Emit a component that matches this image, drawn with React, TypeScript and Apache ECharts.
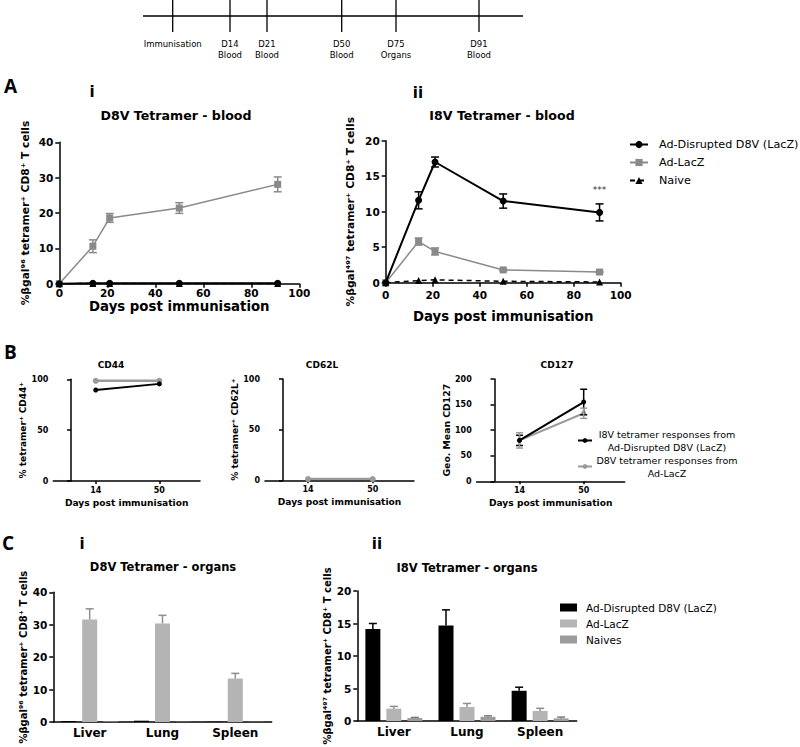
import React, { useEffect, useRef } from "react";
import * as echarts from "echarts";

// ---------------- data ----------------
const days = [0, 14, 21, 50, 91];

// A i  D8V tetramer - blood
const d8vBloodDisrupted = [0, 0.1, 0.1, 0.1, 0.1];
const d8vBloodLacZ = [0, 10.6, 18.6, 21.4, 28.1];
const d8vBloodLacZErr = [0, 1.8, 1.25, 1.5, 2.1];
const d8vBloodNaive = [0, 0.05, 0.05, 0.05, 0.05];

// A ii  I8V tetramer - blood
const i8vBloodDisrupted = [0, 11.6, 17.0, 11.5, 9.9];
const i8vBloodDisruptedErr = [0, 1.2, 0.7, 1.0, 1.2];
const i8vBloodLacZ = [0, 5.8, 4.4, 1.8, 1.5];
const i8vBloodLacZErr = [0, 0.5, 0.5, 0.15, 0.1];
const i8vBloodNaive = [0, 0.3, 0.4, 0.2, 0.1];
const sigDay = 91;
const sigLabelLevel = 13.1;

// B  phenotype
const phenoDays = [14, 50];
const cd44Disrupted = [89.5, 95.5];
const cd44LacZ = [98.5, 98.5];
const cd62lDisrupted = [0.8, 0.8];
const cd62lLacZ = [1.2, 1.2];
const cd127Disrupted = [80, 155];
const cd127DisruptedErr = [10, 25];
const cd127LacZ = [80, 133];
const cd127LacZErr = [15, 10];

// C  organs
const organs = ["Liver", "Lung", "Spleen"];
const d8vOrganDisrupted = [0.3, 0.4, 0.1];
const d8vOrganLacZ = [31.6, 30.4, 13.4];
const d8vOrganLacZErr = [3.3, 2.5, 1.6];
const d8vOrganNaive = [0.2, 0.1, 0.1];
const i8vOrganDisrupted = [14.15, 14.7, 4.65];
const i8vOrganDisruptedErr = [0.85, 2.4, 0.55];
const i8vOrganLacZ = [1.9, 2.15, 1.55];
const i8vOrganLacZErr = [0.35, 0.55, 0.4];
const i8vOrganNaive = [0.45, 0.65, 0.4];
const i8vOrganNaiveErr = [0.1, 0.15, 0.2];

// timeline
const timelineTop = ["Immunisation", "D14", "D21", "D50", "D75", "D91"];
const timelineBottom = ["", "Blood", "Blood", "Blood", "Organs", "Blood"];

// tick labels
const bloodDayTicks = [0, 20, 40, 60, 80, 100];

// series names
const N_DIS = "Ad-Disrupted D8V (LacZ)";
const N_LACZ = "Ad-LacZ";
const N_NAIVE = "Naive";
const N_NAIVES = "Naives";
const N_I8V = "I8V tetramer responses from Ad-Disrupted D8V (LacZ)";
const N_D8V = "D8V tetramer responses from Ad-LacZ";

// axis names
const NAME_96 = "%βgal⁹⁶ tetramer⁺ CD8⁺ T cells";
const NAME_497 = "%βgal⁴⁹⁷ tetramer⁺ CD8⁺ T cells";
const NAME_CD44 = "% tetramer⁺ CD44⁺";
const NAME_CD62 = "% tetramer⁺ CD62L⁺";
const NAME_CD127 = "Geo. Mean CD127";
const NAME_DAYS = "Days post immunisation";

// ---------------- styles ----------------
const F = '"DejaVu Sans", sans-serif';
const FT = '"Open Sans", "DejaVu Sans", sans-serif';
const BLACK = "#000000";
const GRAY_LINE = "#8a8a8a";
const GRAY_PHENO = "#9a9a9a";
const GRAY_BAR = "#b4b4b4";
const NAIVE_BAR = "#9c9c9c";

const nameStyle = (size: number) => ({ fontFamily: F, fontWeight: "bold", fontSize: size, color: BLACK });
const axLine = { show: true, lineStyle: { color: BLACK, width: 1.5 } };
const tick = (len: number) => ({ show: true, length: len, lineStyle: { color: BLACK, width: 1.5 } });
const lab = (size: number, margin: number) => ({ color: BLACK, fontFamily: F, fontWeight: "bold", fontSize: size, margin });

function errSeries(
  xi: number,
  xs: number[],
  ys: number[],
  errs: number[],
  color: string,
  cap: number,
  upOnly: boolean,
  offset: number
) {
  const data: number[][] = [];
  xs.forEach((x, i) => {
    if (errs[i] > 0) data.push([x, upOnly ? ys[i] : ys[i] - errs[i], ys[i] + errs[i]]);
  });
  return {
    type: "custom",
    xAxisIndex: xi,
    yAxisIndex: xi,
    silent: true,
    z: 4,
    encode: { x: 0, y: [1, 2] },
    data,
    renderItem: (params: any, api: any) => {
      const lo = api.coord([api.value(0), api.value(1)]);
      const hi = api.coord([api.value(0), api.value(2)]);
      const x = lo[0] + offset;
      const h = cap / 2;
      const st = { stroke: color, lineWidth: 1.5 };
      const children: any[] = [
        { type: "line", shape: { x1: x, y1: lo[1], x2: x, y2: hi[1] }, style: st },
        { type: "line", shape: { x1: x - h, y1: hi[1], x2: x + h, y2: hi[1] }, style: st },
      ];
      if (!upOnly) children.push({ type: "line", shape: { x1: x - h, y1: lo[1], x2: x + h, y2: lo[1] }, style: st });
      return { type: "group", children };
    },
  };
}

function lineSeries(name: string, xi: number, xs: number[], ys: number[], color: string, symbol: string, size: number, width: number, dashed = false, z = 3) {
  return {
    type: "line",
    name,
    xAxisIndex: xi,
    yAxisIndex: xi,
    data: xs.map((x, i) => [x, ys[i]]),
    symbol,
    symbolSize: size,
    showSymbol: true,
    z,
    lineStyle: { color, width, type: dashed ? [5, 4] : "solid" },
    itemStyle: { color, borderWidth: 0 },
  };
}

function barSeries(name: string, xi: number, ys: number[], color: string) {
  return {
    type: "bar",
    name,
    xAxisIndex: xi,
    yAxisIndex: xi,
    data: ys,
    barWidth: 15,
    barGap: "40%",
    itemStyle: { color },
    z: 2,
  };
}

function buildOption() {
  const grids = [
    { left: 59.3, top: 142.3, width: 240, height: 141.4 },
    { left: 385.7, top: 140.7, width: 235, height: 142 },
    { left: 53.3, top: 379.3, width: 146.7, height: 101.7 },
    { left: 265, top: 379, width: 149, height: 101.3 },
    { left: 476.7, top: 379, width: 148, height: 102.3 },
    { left: 53.3, top: 592.3, width: 218.4, height: 129.7 },
    { left: 357.3, top: 591, width: 219.4, height: 130 },
  ];

  const daysName = (size: number, gap: number) => ({
    name: NAME_DAYS,
    nameLocation: "middle",
    nameGap: gap,
    nameTextStyle: nameStyle(size),
  });

  const xAxis: any[] = [
    { type: "value", gridIndex: 0, min: bloodDayTicks[0], max: bloodDayTicks[bloodDayTicks.length - 1], interval: 20, axisLine: axLine, axisTick: tick(4), axisLabel: lab(10.5, 4), splitLine: { show: false }, ...daysName(13.3, 16) },
    { type: "value", gridIndex: 1, min: bloodDayTicks[0], max: bloodDayTicks[bloodDayTicks.length - 1], interval: 20, axisLine: axLine, axisTick: tick(4), axisLabel: lab(10.5, 7), splitLine: { show: false }, ...daysName(13.3, 27) },
  ];
  [2, 3, 4].forEach((g) => {
    xAxis.push({
      type: "value", gridIndex: g, min: -10, max: 73,
      axisLine: axLine,
      axisTick: { ...tick(3), customValues: phenoDays },
      axisLabel: { ...lab(8, 5), customValues: phenoDays },
      splitLine: { show: false },
      ...daysName(9.1, 17),
    });
  });
  [5, 6].forEach((g) => {
    xAxis.push({
      type: "category", gridIndex: g, data: organs,
      axisLine: axLine, axisTick: { show: false }, axisLabel: lab(12, 5), splitLine: { show: false },
    });
  });

  const yBase = (g: number, min: number, max: number, interval: number, size: number, margin: number) => ({
    type: "value", gridIndex: g, min, max, interval,
    axisLine: axLine, axisTick: tick(4), axisLabel: lab(size, margin), splitLine: { show: false },
    nameLocation: "middle", nameRotate: 90,
  });

  const yAxis: any[] = [
    { ...yBase(0, 0, 40, 10, 10.5, 6), name: NAME_96, nameGap: 28, nameTextStyle: nameStyle(10.7) },
    { ...yBase(1, 0, 20, 5, 10.5, 6), name: NAME_497, nameGap: 30, nameTextStyle: nameStyle(10.7) },
    { ...yBase(2, 0, 100, 50, 8, 5), name: NAME_CD44, nameGap: 19, nameTextStyle: nameStyle(9) },
    { ...yBase(3, 0, 100, 50, 8, 5), name: NAME_CD62, nameGap: 16, nameTextStyle: nameStyle(9) },
    { ...yBase(4, 0, 200, 50, 8, 5), name: NAME_CD127, nameGap: 18, nameTextStyle: nameStyle(9.3) },
    { ...yBase(5, 0, 40, 10, 10.5, 6), name: NAME_96, nameGap: 21, nameTextStyle: nameStyle(10) },
    { ...yBase(6, 0, 20, 5, 10.5, 6), name: NAME_497, nameGap: 19, nameTextStyle: nameStyle(10) },
  ];

  const orgIdx = organs.map((_, i) => i);

  const series: any[] = [
    // A i
    lineSeries(N_DIS, 0, days, d8vBloodDisrupted, BLACK, "circle", 7, 2, false, 4),
    lineSeries(N_LACZ, 0, days, d8vBloodLacZ, GRAY_LINE, "rect", 7, 1.5),
    lineSeries(N_NAIVE, 0, days, d8vBloodNaive, BLACK, "triangle", 7, 1.5, true, 3),
    errSeries(0, days, d8vBloodLacZ, d8vBloodLacZErr, GRAY_LINE, 8, false, 0),
    // A ii
    {
      ...lineSeries(N_DIS, 1, days, i8vBloodDisrupted, BLACK, "circle", 7, 2, false, 4),
      markPoint: {
        symbol: "circle",
        symbolSize: 1,
        silent: true,
        itemStyle: { color: "rgba(0,0,0,0)" },
        label: { show: true, position: "inside", formatter: "***", color: "#333", fontFamily: F, fontSize: 9 },
        data: [{ coord: [sigDay, sigLabelLevel] }],
      },
    },
    lineSeries(N_LACZ, 1, days, i8vBloodLacZ, GRAY_LINE, "rect", 7, 1.5),
    lineSeries(N_NAIVE, 1, days, i8vBloodNaive, BLACK, "triangle", 7, 1.5, true, 3),
    errSeries(1, days, i8vBloodDisrupted, i8vBloodDisruptedErr, BLACK, 8, false, 0),
    errSeries(1, days, i8vBloodLacZ, i8vBloodLacZErr, GRAY_LINE, 8, false, 0),
    // B CD127 (first, legend icons)
    lineSeries(N_I8V, 4, phenoDays, cd127Disrupted, BLACK, "circle", 5, 2, false, 4),
    lineSeries(N_D8V, 4, phenoDays, cd127LacZ, GRAY_PHENO, "circle", 5, 2, false, 3),
    errSeries(4, phenoDays, cd127Disrupted, cd127DisruptedErr, BLACK, 7, false, 0),
    errSeries(4, phenoDays, cd127LacZ, cd127LacZErr, GRAY_PHENO, 7, false, 0),
    // B CD44
    lineSeries(N_I8V, 2, phenoDays, cd44Disrupted, BLACK, "circle", 5, 2, false, 4),
    lineSeries(N_D8V, 2, phenoDays, cd44LacZ, GRAY_PHENO, "circle", 6, 2.5, false, 3),
    // B CD62L
    lineSeries(N_I8V, 3, phenoDays, cd62lDisrupted, BLACK, "circle", 5, 2, false, 3),
    lineSeries(N_D8V, 3, phenoDays, cd62lLacZ, GRAY_PHENO, "circle", 6, 2.5, false, 4),
    // C i
    barSeries(N_DIS, 5, d8vOrganDisrupted, BLACK),
    barSeries(N_LACZ, 5, d8vOrganLacZ, GRAY_BAR),
    barSeries(N_NAIVES, 5, d8vOrganNaive, NAIVE_BAR),
    errSeries(5, orgIdx, d8vOrganLacZ, d8vOrganLacZErr, "#8f8f8f", 8, true, 0),
    // C ii
    barSeries(N_DIS, 6, i8vOrganDisrupted, BLACK),
    barSeries(N_LACZ, 6, i8vOrganLacZ, GRAY_BAR),
    barSeries(N_NAIVES, 6, i8vOrganNaive, NAIVE_BAR),
    errSeries(6, orgIdx, i8vOrganDisrupted, i8vOrganDisruptedErr, BLACK, 8, true, -21),
    errSeries(6, orgIdx, i8vOrganLacZ, i8vOrganLacZErr, "#8f8f8f", 8, true, 0),
    errSeries(6, orgIdx, i8vOrganNaive, i8vOrganNaiveErr, "#7a7a7a", 8, true, 21),
  ];

  const legendText = (size: number) => ({ fontFamily: F, fontSize: size, color: BLACK });

  const legend: any[] = [
    {
      orient: "vertical", left: 629, top: 139, padding: 0,
      itemWidth: 18, itemHeight: 9, itemGap: 7,
      data: [N_DIS, N_LACZ, N_NAIVE],
      textStyle: { ...legendText(11.2), padding: [0, 0, 0, 6] },
      selectedMode: false,
    },
    {
      orient: "vertical", left: 577, top: 429, padding: 0,
      itemWidth: 14, itemHeight: 6, itemGap: 3,
      data: [N_I8V, N_D8V],
      selectedMode: false,
      formatter: (name: string) => {
        const cut = name.indexOf(" from ") + 5;
        return `{t|${name.slice(0, cut)}}\n{t|${name.slice(cut + 1)}}`;
      },
      textStyle: {
        rich: { t: { fontFamily: F, fontSize: 9.5, color: BLACK, lineHeight: 13, width: 140, align: "center" } },
      },
    },
    {
      orient: "vertical", left: 560, top: 602, padding: 0,
      itemWidth: 17, itemHeight: 8, itemGap: 5,
      selectedMode: false,
      data: [
        { name: N_DIS, icon: "rect", itemStyle: { color: BLACK, borderWidth: 0 } },
        { name: N_LACZ, icon: "rect", itemStyle: { color: GRAY_BAR, borderWidth: 0 } },
        { name: N_NAIVES, icon: "rect", itemStyle: { color: NAIVE_BAR, borderWidth: 0 } },
      ],
      textStyle: { ...legendText(10.5), padding: [0, 0, 0, 4] },
    },
  ];

  // ---- schematic timeline & titles (layout constants) ----
  const tl = { x0: 143, x1: 523, y: 16, tickTop: 0, tickBottom: 32, ticks: [172.7, 230, 267, 341.7, 396, 479] };
  const graphic: any[] = [];
  graphic.push({ type: "line", shape: { x1: tl.x0, y1: tl.y, x2: tl.x1, y2: tl.y }, style: { stroke: BLACK, lineWidth: 1.3 } });
  const tlText = (text: string, x: number, y: number) => ({
    type: "text", x, y, style: { text, fontFamily: F, fontSize: 8.5, align: "center", verticalAlign: "middle", fill: BLACK },
  });
  tl.ticks.forEach((x, i) => {
    graphic.push({ type: "line", shape: { x1: x, y1: tl.tickTop, x2: x, y2: tl.tickBottom }, style: { stroke: BLACK, lineWidth: 1.3 } });
    graphic.push(tlText(timelineTop[i], x, 43.5));
    if (timelineBottom[i]) graphic.push(tlText(timelineBottom[i], x, 55));
  });

  const title = (text: string, x: number, y: number, size: number) => ({
    type: "text", x, y, style: { text, fontFamily: F, fontWeight: "bold", fontSize: size, align: "center", verticalAlign: "middle", fill: BLACK },
  });
  graphic.push(title("D8V Tetramer - blood", 176, 115, 12.6));
  graphic.push(title("I8V Tetramer - blood", 502, 115, 12.6));
  graphic.push(title("CD44", 111, 365, 9));
  graphic.push(title("CD62L", 322, 365, 9));
  graphic.push(title("CD127", 557, 365, 9));
  graphic.push(title("D8V Tetramer - organs", 163, 567, 11.5));
  graphic.push(title("I8V Tetramer - organs", 467, 568, 11.5));

  const letter = (text: string, x: number, y: number) => ({
    type: "text", x, y, style: { text, fontFamily: FT, fontSize: 19, fontWeight: "bold", align: "left", verticalAlign: "middle", fill: BLACK },
  });
  graphic.push(letter("A", 4, 86));
  graphic.push(letter("B", 4, 352));
  graphic.push(letter("C", 2, 543));
  const roman = (text: string, x: number, y: number) => ({
    type: "text", x, y, style: { text, fontFamily: F, fontSize: 15, fontWeight: "bold", align: "center", verticalAlign: "middle", fill: BLACK },
  });
  graphic.push(roman("i", 92, 92));
  graphic.push(roman("ii", 418, 93));
  graphic.push(roman("i", 82, 544));
  graphic.push(roman("ii", 377, 544));

  return {
    animation: false,
    backgroundColor: "#ffffff",
    grid: grids,
    xAxis,
    yAxis,
    series,
    legend,
    graphic,
  };
}

export default function App() {
  const ref = useRef<HTMLDivElement>(null);
  useEffect(() => {
    document.body.style.margin = "0";
    const chart = echarts.init(ref.current as HTMLDivElement, null, { renderer: "svg" });
    chart.setOption(buildOption() as any);
    return () => chart.dispose();
  }, []);
  return <div ref={ref} style={{ width: 800, height: 747 }} />;
}
